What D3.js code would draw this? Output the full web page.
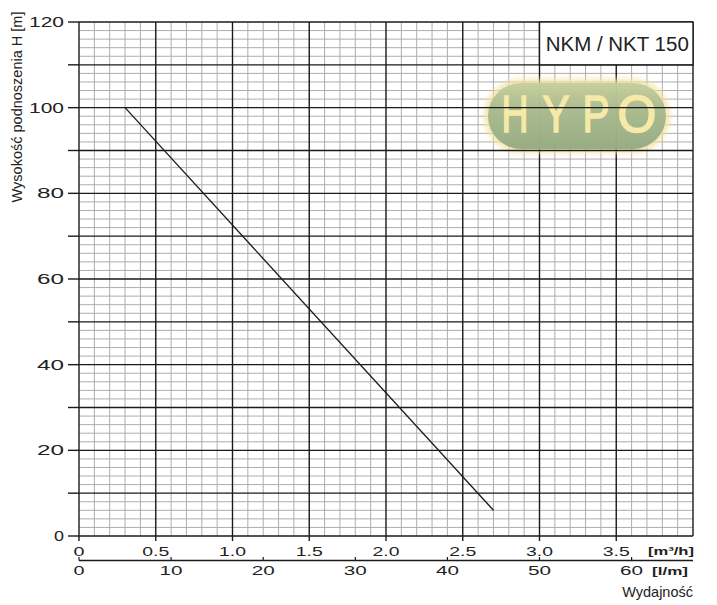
<!DOCTYPE html>
<html><head><meta charset="utf-8">
<script src="https://cdn.jsdelivr.net/npm/d3@7"></script>
<style>body{margin:0;background:#fff}svg{display:block}text{font-family:"Liberation Sans",Arial,sans-serif}</style>
</head><body>
<svg id="c" width="717" height="605"></svg>
<script>
// data
const curveQ = [0.3, 2.7];          // flow [m3/h]
const curveH = [100, 6];            // head [m]
const yTicks = [0, 20, 40, 60, 80, 100, 120];
const xTicksM3h = [0, 0.5, 1.0, 1.5, 2.0, 2.5, 3.0, 3.5];
const xTickLabelsM3h = ["0", "0.5", "1.0", "1.5", "2.0", "2.5", "3.0", "3.5"];
const xTicksLm = [0, 10, 20, 30, 40, 50, 60];
const title = "NKM / NKT 150";
const yTitle = "Wysokość podnoszenia H [m]";
const xTitle = "Wydajność";

const svg = d3.select("#c");
const x = d3.scaleLinear().domain([0, 4]).range([79, 693]);
const y = d3.scaleLinear().domain([0, 120]).range([536, 22]);
const xl = d3.scaleLinear().domain([0, 4 * 1000 / 60]).range([79, 693]); // l/min

// minor grid
const g = svg.append("g");
g.selectAll(".vmin").data(d3.range(1, 40).filter(i => i % 5 !== 0)).join("line")
  .attr("x1", i => x(i / 10)).attr("x2", i => x(i / 10)).attr("y1", y(0)).attr("y2", y(120))
  .attr("stroke", "#adadad").attr("stroke-width", 1);
g.selectAll(".hmin").data(d3.range(1, 60).filter(i => i % 5 !== 0)).join("line")
  .attr("y1", i => y(i * 2)).attr("y2", i => y(i * 2)).attr("x1", x(0)).attr("x2", x(4))
  .attr("stroke", "#adadad").attr("stroke-width", 1);

// logo (behind major lines, translucent)
const defs = svg.append("defs");
const lg = defs.append("linearGradient").attr("id", "pill").attr("x1", 0).attr("y1", 0).attr("x2", 0).attr("y2", 1);
lg.append("stop").attr("offset", "0%").attr("stop-color", "#c2cc9c");
lg.append("stop").attr("offset", "40%").attr("stop-color", "#a2b68c");
lg.append("stop").attr("offset", "100%").attr("stop-color", "#8ca57f");
const flt = defs.append("filter").attr("id", "glow").attr("x", "-20%").attr("y", "-30%").attr("width", "140%").attr("height", "160%");
flt.append("feGaussianBlur").attr("stdDeviation", 2.5);
const logo = svg.append("g");
logo.append("rect").attr("x", 484).attr("y", 79).attr("width", 186).attr("height", 74).attr("rx", 37)
  .attr("fill", "#f1e3a0").attr("opacity", 0.8).attr("filter", "url(#glow)");
logo.append("rect").attr("x", 488).attr("y", 83).attr("width", 178).attr("height", 66).attr("rx", 33)
  .attr("fill", "url(#pill)").attr("opacity", 0.88);
const letters = ["H", "Y", "P", "O"], lx = [515, 556, 596, 637];
logo.selectAll(".lt").data(letters).join("text")
  .attr("x", (d, i) => lx[i]).attr("y", 132).attr("text-anchor", "middle")
  .attr("font-size", 52).attr("fill", "#f7e9a8")
  .attr("textLength", (d, i) => i === 3 ? 39 : 27).attr("lengthAdjust", "spacingAndGlyphs")
  .attr("stroke", "#f7e9a8").attr("stroke-width", 1.6)
  .text(d => d);

// major grid
g.append("g").selectAll("line").data(d3.range(0, 4.01, 0.5)).join("line")
  .attr("x1", d => x(d)).attr("x2", d => x(d)).attr("y1", y(0)).attr("y2", y(120))
  .attr("stroke", "#1a1a1a").attr("stroke-width", 1.4);
svg.append("g").selectAll("line").data(d3.range(0, 121, 10)).join("line")
  .attr("y1", d => y(d)).attr("y2", d => y(d)).attr("x1", x(0)).attr("x2", x(4))
  .attr("stroke", "#1a1a1a").attr("stroke-width", 1.4);

// y ticks & labels
svg.append("g").selectAll("line").data(d3.range(0, 121, 10)).join("line")
  .attr("y1", d => y(d)).attr("y2", d => y(d)).attr("x1", 68).attr("x2", x(0))
  .attr("stroke", "#1a1a1a").attr("stroke-width", 1.4);
svg.append("g").selectAll("text").data(yTicks).join("text")
  .attr("x", 64).attr("y", d => y(d) + 5).attr("text-anchor", "end")
  .attr("font-size", 14).attr("fill", "#222")
  .attr("textLength", d => String(d).length === 1 ? 10 : String(d).length === 2 ? 27 : 35)
  .attr("lengthAdjust", "spacingAndGlyphs").text(d => d);

// title box
svg.append("rect").attr("x", x(3)).attr("y", y(120)).attr("width", x(4) - x(3)).attr("height", y(110) - y(120))
  .attr("fill", "#fff").attr("stroke", "#1a1a1a").attr("stroke-width", 1.4);
svg.append("text").attr("x", (x(3) + x(4)) / 2 + 1).attr("y", 51).attr("text-anchor", "middle")
  .attr("font-size", 20.5).attr("fill", "#222").text(title);

// curve
const line = d3.line().x(d => x(d[0])).y(d => y(d[1]));
svg.append("path").datum(d3.zip(curveQ, curveH)).attr("d", line)
  .attr("fill", "none").attr("stroke", "#1a1a1a").attr("stroke-width", 1.3);

// bottom m3/h ticks
svg.append("g").selectAll("line").data(xTicksM3h).join("line")
  .attr("x1", d => x(d)).attr("x2", d => x(d)).attr("y1", y(0)).attr("y2", 541)
  .attr("stroke", "#1a1a1a").attr("stroke-width", 1.4);
svg.append("g").selectAll("text").data(xTicksM3h).join("text")
  .attr("x", d => x(d)).attr("y", 555.5).attr("text-anchor", "middle")
  .attr("font-size", 13).attr("fill", "#222")
  .attr("textLength", (d, i) => xTickLabelsM3h[i].length === 1 ? 11 : 27)
  .attr("lengthAdjust", "spacingAndGlyphs").text((d, i) => xTickLabelsM3h[i]);
svg.append("text").attr("x", 694).attr("y", 555).attr("text-anchor", "end")
  .attr("font-size", 11).attr("font-weight", "bold").attr("fill", "#222")
  .attr("textLength", 46).attr("lengthAdjust", "spacingAndGlyphs").text("[m³/h]");

// l/m axis
svg.append("line").attr("x1", x(0)).attr("x2", x(4)).attr("y1", 560.5).attr("y2", 560.5)
  .attr("stroke", "#1a1a1a").attr("stroke-width", 1.4);
svg.append("g").selectAll("line").data(xTicksLm).join("line")
  .attr("x1", d => xl(d)).attr("x2", d => xl(d)).attr("y1", 557).attr("y2", 560.5)
  .attr("stroke", "#1a1a1a").attr("stroke-width", 1.2);
svg.append("g").selectAll("text").data(xTicksLm).join("text")
  .attr("x", d => xl(d)).attr("y", 574.5).attr("text-anchor", "middle")
  .attr("font-size", 13).attr("fill", "#222")
  .attr("textLength", d => String(d).length === 1 ? 11 : 23)
  .attr("lengthAdjust", "spacingAndGlyphs").text(d => d);
svg.append("text").attr("x", 688).attr("y", 574.5).attr("text-anchor", "end")
  .attr("font-size", 11).attr("font-weight", "bold").attr("fill", "#222")
  .attr("textLength", 36).attr("lengthAdjust", "spacingAndGlyphs").text("[l/m]");

// axis titles
svg.append("text").attr("x", 693).attr("y", 597).attr("text-anchor", "end")
  .attr("font-size", 14.5).attr("fill", "#222").text(xTitle);
svg.append("text").attr("transform", "translate(22,107) rotate(-90)").attr("text-anchor", "middle")
  .attr("font-size", 14.5).attr("fill", "#222").text(yTitle);
</script>
</body></html>
